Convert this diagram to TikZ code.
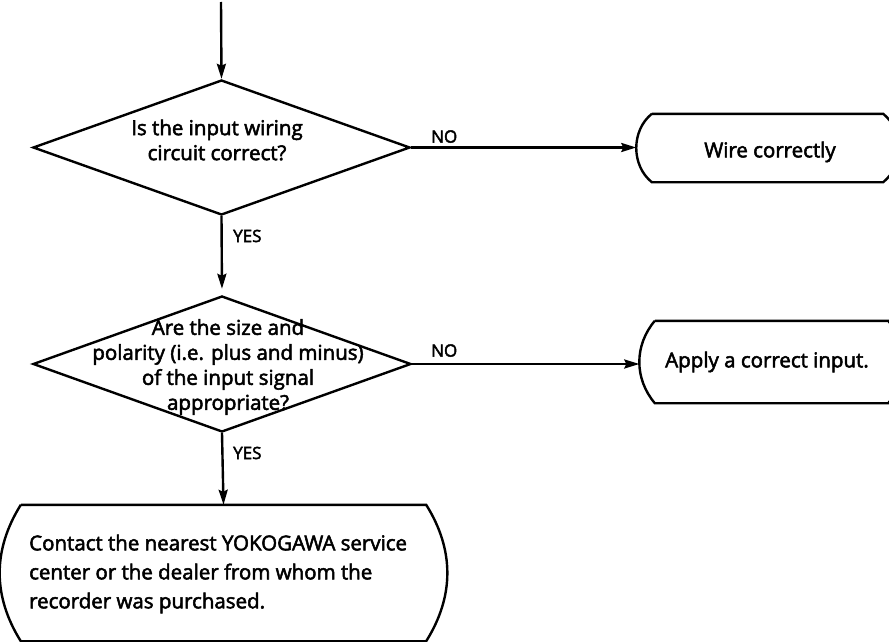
\documentclass[tikz,border=0pt]{standalone}
\usepackage{fontspec}
\setmainfont{Open Sans}[RawFeature={embolden=2.5}]
\usetikzlibrary{shapes.geometric,arrows.meta}
\begin{document}
\begin{tikzpicture}[x=1pt,y=-1pt,
  line width=2.4pt,
  flow/.style={-{Stealth[length=15pt,width=9pt,inset=2pt]}},
  decision/.style={diamond,draw,inner sep=0pt},
  txt/.style={font=\fontsize{20.5}{25}\selectfont,align=center,inner sep=0pt},
  lbl/.style={font=\fontsize{17}{18}\selectfont,inner sep=0pt},
  area/.style={inner sep=0pt}
]
\useasboundingbox (0,0) rectangle (889,642);
\clip (0,0) rectangle (889,642);

% decisions
\node[decision,minimum width=377pt,minimum height=135pt] (d1) at (221.5,147.5) {};
\node[txt] (d1t) at (217,140) {Is the input wiring\\circuit correct?};

\node[decision,minimum width=378pt,minimum height=136pt] (d2) at (222,364) {};
\node[txt] (d2t) at (228,367) {Are the size and\\polarity (i.e. plus and minus)\\of the input signal\\appropriate?};

% terminal boxes
\node[area,minimum width=229pt,minimum height=66pt] (b1) at (767.5,148) {};
\node[txt] (b1t) at (770,152) {Wire correctly};
\draw (b1.north west) -- (b1.north east) to[bend left=51] (b1.south east)
  -- (b1.south west) to[bend left=51] node[pos=.5,coordinate] (b1tip) {} (b1.north west);

\node[area,minimum width=231pt,minimum height=80pt] (b2) at (771.5,362) {};
\node[txt] (b2t) at (767,362) {Apply a correct input.};
\draw (b2.north west) -- (b2.north east) to[bend left=40] (b2.south east)
  -- (b2.south west) to[bend left=40] node[pos=.5,coordinate] (b2tip) {} (b2.north west);

\node[area,minimum width=403pt,minimum height=134pt] (b3) at (223.5,573) {};
\node[txt,font=\fontsize{20.5}{29}\selectfont,align=left,anchor=west] (b3t) at (28,574)
  {Contact the nearest YOKOGAWA service\\center or the dealer from whom the\\recorder was purchased.};
\draw (b3.north west) -- (b3.north east) to[bend left=32] (b3.south east)
  -- (b3.south west) to[bend left=32] (b3.north west);

% connectors
\coordinate (start) at (221,2);
\draw[flow] (start) -- (d1.north);
\draw[flow,shorten >=6pt] (d1.south) -- (d2.north);
\draw[flow] (d2.south) -- (b3.north);
\draw[flow] (d1.east) -- (d1.east -| b1tip);
\draw[flow] (d2.east) -- (d2.east -| b2tip);

% branch labels
\node[lbl,anchor=south west] (no1) at (430,144) {NO};
\node[lbl,anchor=south west] (no2) at (430,358) {NO};
\node[lbl,anchor=west] (yes1) at (232,236) {YES};
\node[lbl,anchor=west] (yes2) at (232,453) {YES};
\end{tikzpicture}
\end{document}
